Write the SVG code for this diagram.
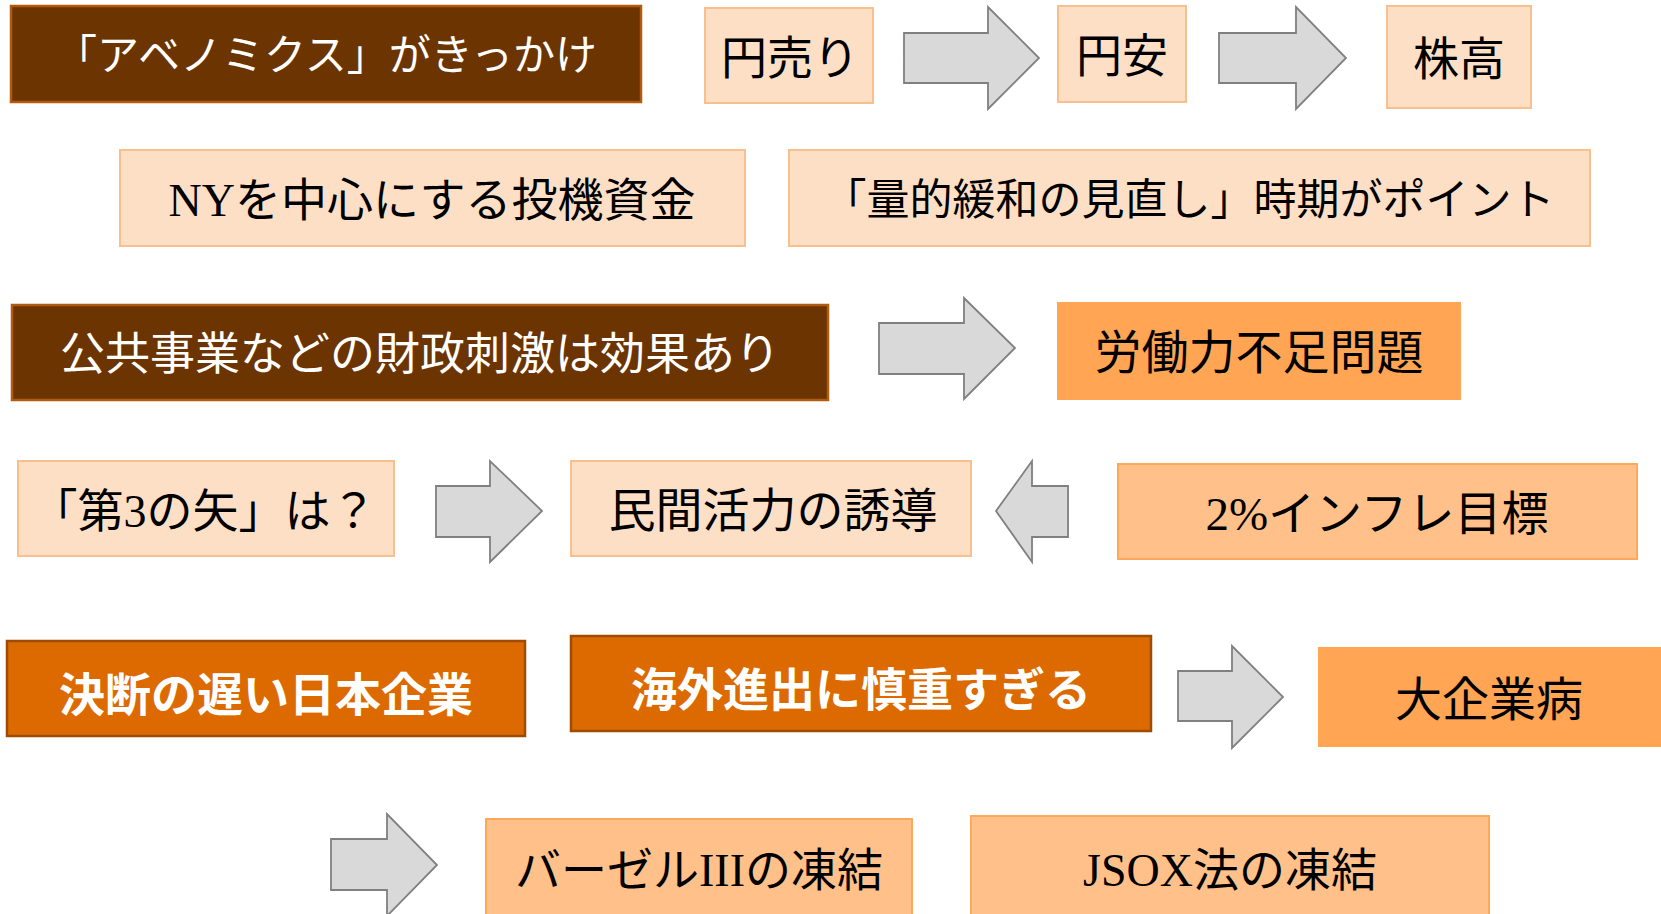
<svg xmlns="http://www.w3.org/2000/svg" width="1661" height="914" viewBox="0 0 1661 914">
<style>
text{font-family:"Liberation Serif","Noto Sans CJK JP",serif;text-anchor:middle;dominant-baseline:central;}
.dk rect{fill:#6B3400;stroke:#B25A10;stroke-width:2.5;}
.pe rect{fill:#FDDFC5;stroke:#F9C08E;stroke-width:2;}
.or rect{fill:#FFA553;stroke:#FFA553;stroke-width:2;}
.lo rect{fill:#FFC08A;stroke:#FFA85A;stroke-width:2;}
.do rect{fill:#DD6A00;stroke:#A04C00;stroke-width:2.5;}
.w{fill:#FFFFFF;}
.b{fill:#000000;}
.bd{font-family:"Noto Sans CJK JP",sans-serif;font-weight:bold;fill:#FFFFFF;}
.arr{fill:#D9D9D9;stroke:#808080;stroke-width:1.8;stroke-linejoin:miter;}
</style>
<rect width="1661" height="914" fill="#FFFFFF"/>
<g id="connectors">
<polygon class="arr" points="904,33 988,33 988,7 1039,58 988,109 988,83 904,83"/>
<polygon class="arr" points="1219,33 1296,33 1296,7 1346,58 1296,109 1296,83 1219,83"/>
<polygon class="arr" points="879,323 964,323 964,298 1015,348 964,399 964,374 879,374"/>
<polygon class="arr" points="436,486 490,486 490,461 542,511 490,562 490,537 436,537"/>
<polygon class="arr" points="1068,486 1032,486 1032,461 996,511 1032,562 1032,537 1068,537"/>
<polygon class="arr" points="1178,671 1232,671 1232,646 1283,697 1232,748 1232,721 1178,721"/>
<polygon class="arr" points="331,839 387,839 387,814 437,865 387,916 387,890 331,890"/>
</g>
<g id="n1" class="dk"><rect x="11" y="6" width="630" height="96"/><text class="w" x="326" y="56" font-size="42">「アベノミクス」がきっかけ</text></g>
<g id="n2" class="pe"><rect x="705" y="8" width="168" height="95"/><text class="b" x="790" y="58" font-size="46">円売り</text></g>
<g id="n3" class="pe"><rect x="1058" y="6" width="128" height="96"/><text class="b" x="1122" y="56" font-size="46">円安</text></g>
<g id="n4" class="pe"><rect x="1387" y="6" width="144" height="102"/><text class="b" x="1459" y="59" font-size="46">株高</text></g>
<g id="n5" class="pe"><rect x="120" y="150" width="625" height="96"/><text class="b" x="432" y="200" font-size="46">NYを中心にする投機資金</text></g>
<g id="n6" class="pe"><rect x="789" y="150" width="801" height="96"/><text class="b" x="1189" y="200" font-size="43">「量的緩和の見直し」時期がポイント</text></g>
<g id="n7" class="dk"><rect x="12" y="305" width="816" height="95"/><text class="w" x="420" y="355" font-size="45">公共事業などの財政刺激は効果あり</text></g>
<g id="n8" class="or"><rect x="1058" y="303" width="402" height="96"/><text class="b" x="1259" y="353" font-size="47">労働力不足問題</text></g>
<g id="n9" class="pe"><rect x="18" y="461" width="376" height="95"/><text class="b" x="204" y="511" font-size="46">「第3の矢」は？</text></g>
<g id="n10" class="pe"><rect x="571" y="461" width="400" height="95"/><text class="b" x="773" y="511" font-size="47">民間活力の誘導</text></g>
<g id="n11" class="lo"><rect x="1118" y="464" width="519" height="95"/><text class="b" x="1377" y="514" font-size="47">2%インフレ目標</text></g>
<g id="n12" class="do"><rect x="7" y="641" width="518" height="95"/><text class="bd" x="266" y="691" font-size="46">決断の遅い日本企業</text></g>
<g id="n13" class="do"><rect x="571" y="636" width="580" height="95"/><text class="bd" x="861" y="686" font-size="46">海外進出に慎重すぎる</text></g>
<g id="n14" class="or"><rect x="1319" y="648" width="341" height="98"/><text class="b" x="1489" y="700" font-size="47">大企業病</text></g>
<g id="n15" class="lo"><rect x="486" y="819" width="426" height="105"/><text class="b" x="699" y="870" font-size="46">バーゼルIIIの凍結</text></g>
<g id="n16" class="lo"><rect x="971" y="816" width="518" height="105"/><text class="b" x="1230" y="870" font-size="46">JSOX法の凍結</text></g>
</svg>
